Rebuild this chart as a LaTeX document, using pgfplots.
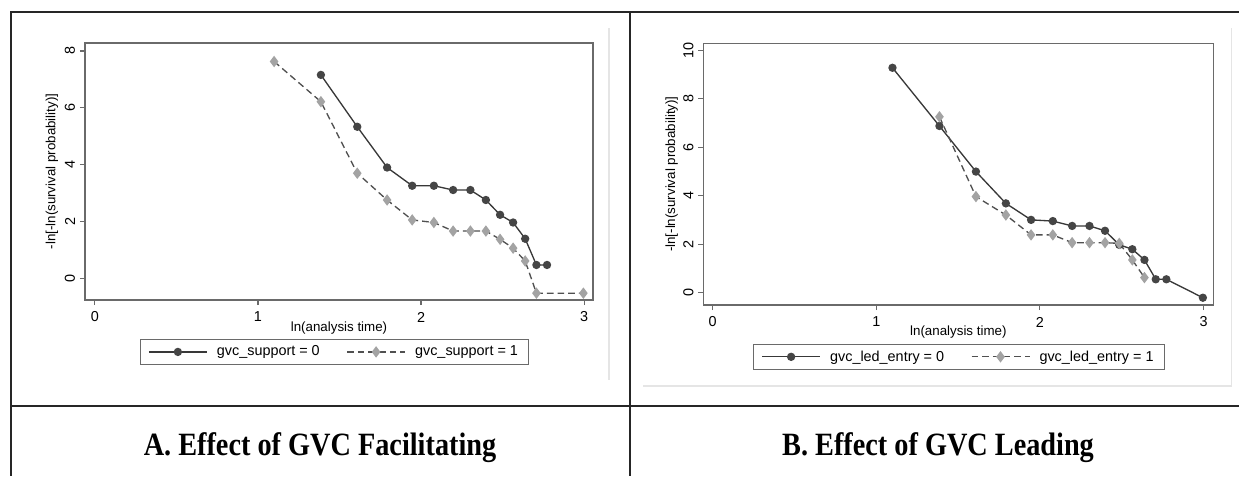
\documentclass[border=0pt]{standalone}
\usepackage{fontspec}
\setmainfont{Liberation Sans}
\newfontfamily\titlefont{Liberation Serif}
\usepackage{graphicx}
\usepackage{pgfplots}
\pgfplotsset{compat=1.18}

\definecolor{lineA}{HTML}{383838}
\definecolor{markA}{HTML}{454545}
\definecolor{lineB}{HTML}{505050}
\definecolor{markB}{HTML}{A3A3A3}
\definecolor{frame}{HTML}{6A6A6A}

\newcommand{\plotfont}{\fontsize{10.8}{12}\selectfont}

\pgfplotsset{
  stata/.style={
    scale only axis,
    axis line style={frame, line width=0.8pt},
    tick style={frame, line width=0.8pt},
    tick align=outside,
    major tick length=3.75pt,
    xtick pos=bottom, ytick pos=left,
    tick label style={font=\plotfont},
    label style={font=\plotfont},
    /pgf/number format/assume math mode=true,
    xtick={0,1,2,3},
    xticklabel style={anchor=center, yshift=-9pt},
    yticklabel style={anchor=center, xshift=-7.5pt, rotate=90},
    every axis y label/.style={at={(axis description cs:-0.065,0.5)}, rotate=90, anchor=center},
    every axis x label/.style={at={(axis description cs:0.5,-0.109)}, anchor=center},
    legend columns=2,
    legend cell align=left,
    legend style={draw=frame, line width=0.6pt, font=\plotfont, anchor=center,
      inner xsep=6pt, inner ysep=2.5pt,
      /tikz/every odd column/.append style={column sep=5pt},
      /tikz/every even column/.append style={column sep=18pt}},
    legend image code/.code={\draw[#1, mark repeat=2, mark phase=2] plot coordinates {(0pt,0pt) (21.75pt,0pt) (43.5pt,0pt)};},
  },
  s0/.style={color=lineA, line width=1pt, mark=*, mark size=2.6pt, mark options={fill=markA, draw=markA, solid}},
  s1/.style={color=lineB, line width=1pt, dash pattern=on 5pt off 3pt, mark=diamond*, mark size=3.5pt, mark options={fill=markB, draw=markB, solid}},
}

\newcommand{\paneltitle}[1]{\scalebox{1}[1.15]{\titlefont\bfseries\fontsize{21.2}{25}\selectfont #1}}

\begin{document}
\begin{tikzpicture}
\begin{scope}[x=0.75pt, y=-0.75pt]
  \path[use as bounding box] (0,0) rectangle (1239,476);
  % faint graph-region edges from the pasted images
  \draw[gray!20, line width=0.8pt] (609,28) -- (609,380);
  \draw[gray!20, line width=0.8pt] (1231.5,28) -- (1231.5,386) -- (643,386);
  % table rules
  \draw[black!85, line width=1.1pt] (1239,12) -- (11,12) -- (11,476);
  \draw[black!85, line width=1.1pt] (630,12) -- (630,476);
  \draw[black!85, line width=1.1pt] (11,406) -- (1239,406);
  \node[anchor=base, inner sep=0pt] at (320,455) {\paneltitle{A. Effect of GVC Facilitating}};
  \node[anchor=base, inner sep=0pt] at (938,455) {\paneltitle{B. Effect of GVC Leading}};
\end{scope}

% panel A
\begin{axis}[stata,
  at={(63.75pt,-225pt)}, anchor=south west,
  width=381pt, height=192.75pt,
  xmin=-0.061, xmax=3.055, ymin=-0.74, ymax=8.28,
  ytick={0,2,4,6,8},
  xlabel={ln(analysis time)},
  ylabel={-ln[-ln(survival probability)]},
  legend style={at={(0.491,-0.202)}},
]
\addplot+[s0] coordinates {
  (1.386,7.16) (1.609,5.34) (1.792,3.91) (1.946,3.27) (2.079,3.27)
  (2.197,3.12) (2.303,3.12) (2.398,2.77) (2.485,2.25) (2.565,1.98)
  (2.639,1.41) (2.708,0.49) (2.773,0.49)
};
\addlegendentry{gvc\_support = 0}
\addplot+[s1] coordinates {
  (1.099,7.63) (1.386,6.22) (1.609,3.71) (1.792,2.77) (1.946,2.07)
  (2.079,1.98) (2.197,1.68) (2.303,1.68) (2.398,1.68) (2.485,1.39)
  (2.565,1.08) (2.639,0.63) (2.708,-0.50) (2.996,-0.50)
};
\addlegendentry{gvc\_support = 1}
\end{axis}

% panel B
\begin{axis}[stata,
  at={(527.5pt,-228.75pt)}, anchor=south west,
  width=382.5pt, height=196.3pt,
  xmin=-0.057, xmax=3.06, ymin=-0.51, ymax=10.28,
  ytick={0,2,4,6,8,10},
  xlabel={ln(analysis time)},
  ylabel={-ln[-ln(survival probability)]},
  x label style={at={(axis description cs:0.5,-0.102)}},
  y label style={at={(axis description cs:-0.062,0.5)}},
  legend style={at={(0.501,-0.198)}},
]
\addplot+[s0] coordinates {
  (1.099,9.27) (1.386,6.87) (1.609,4.99) (1.792,3.68) (1.946,3.00)
  (2.079,2.95) (2.197,2.75) (2.303,2.75) (2.398,2.55) (2.485,1.97)
  (2.565,1.79) (2.639,1.35) (2.708,0.55) (2.773,0.55) (2.996,-0.21)
};
\addlegendentry{gvc\_led\_entry = 0}
\addplot+[s1] coordinates {
  (1.386,7.25) (1.609,3.96) (1.792,3.20) (1.946,2.38) (2.079,2.38)
  (2.197,2.06) (2.303,2.06) (2.398,2.06) (2.485,2.03) (2.565,1.35)
  (2.639,0.62)
};
\addlegendentry{gvc\_led\_entry = 1}
\end{axis}
\end{tikzpicture}
\end{document}
